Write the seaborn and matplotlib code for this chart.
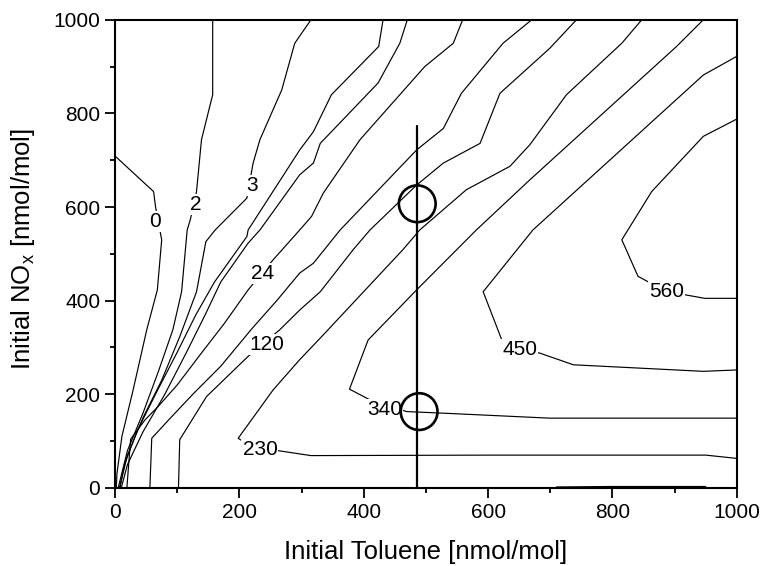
import matplotlib
matplotlib.use("Agg")
import matplotlib.pyplot as plt
import pandas as pd
import seaborn as sns

# contour polylines: (toluene, NOx) in nmol/mol
c0_x = [0, 62, 65, 72, 75, 68, 51, 29, 11, 3, 2]
c0_y = [709, 633, 601, 551, 530, 423, 338, 209, 110, 30, 0]
c2_x = [157, 157, 139, 131, 121, 116, 107, 93, 70, 45, 20, 5]
c2_y = [1000, 840, 744, 633, 573, 551, 419, 338, 250, 160, 80, 0]
c3_x = [315, 289, 268, 233, 222, 212, 161, 146, 131, 104, 75, 45, 20, 7]
c3_y = [1000, 950, 850, 744, 694, 619, 551, 526, 419, 323, 230, 150, 70, 0]
cA_x = [431, 424, 348, 319, 297, 214, 212, 160, 130, 100, 65, 35, 15, 8]
cA_y = [1000, 943, 840, 761, 722, 551, 537, 440, 370, 290, 200, 120, 50, 0]
cB_x = [470, 458, 423, 330, 319, 297, 233, 214, 170, 145, 115, 80, 45, 20, 10]
cB_y = [1000, 950, 865, 736, 694, 669, 551, 523, 440, 370, 290, 200, 120, 50, 0]
c24_x = [559, 544, 498, 458, 394, 335, 316, 297, 254, 214, 175, 140, 100, 70, 48, 25, 19]
c24_y = [1000, 950, 900, 840, 744, 630, 580, 551, 487, 423, 350, 290, 220, 175, 145, 104, 0]
cD_x = [670, 624, 557, 528, 485, 362, 319, 297, 260, 220, 170, 125, 86, 59, 56]
cD_y = [1000, 950, 843, 768, 722, 551, 480, 459, 400, 340, 260, 200, 145, 106, 0]
c120_x = [742, 699, 619, 587, 528, 485, 410, 383, 330, 297, 265, 214, 147, 104, 102]
c120_y = [1000, 939, 843, 736, 694, 647, 551, 509, 419, 380, 338, 281, 195, 103, 0]
c230_x = [847, 815, 726, 667, 635, 565, 490, 463, 330, 297, 254, 198, 206, 233, 265,
          315, 600, 950, 1000]
c230_y = [1000, 950, 840, 733, 687, 637, 551, 509, 320, 274, 209, 106, 99, 85, 79,
          69, 70, 70, 63]
c340_x = [946, 903, 667, 581, 485, 407, 377, 410, 469, 522, 699, 1000]
c340_y = [1000, 943, 658, 551, 423, 316, 211, 188, 163, 160, 149, 149]
c450_x = [1000, 946, 672, 592, 622, 651, 683, 737, 946, 1000]
c450_y = [922, 882, 551, 419, 316, 295, 288, 263, 249, 252]
c560_x = [1000, 946, 863, 815, 841, 887, 919, 948, 1000]
c560_y = [788, 751, 633, 530, 452, 419, 412, 405, 405]
cbase_x = [710, 800, 950]
cbase_y = [2, 3, 3]

contours = [(c0_x, c0_y), (c2_x, c2_y), (c3_x, c3_y), (cA_x, cA_y), (cB_x, cB_y),
            (c24_x, c24_y), (cD_x, cD_y), (c120_x, c120_y), (c230_x, c230_y),
            (c340_x, c340_y), (c450_x, c450_y), (c560_x, c560_y), (cbase_x, cbase_y)]

label_text = ["0", "2", "3", "24", "120", "230", "340", "450", "560"]
label_x = [64, 130, 220, 238, 244, 233, 434, 651, 887]
label_y = [569, 605, 647, 459, 306, 81, 167, 295, 419]

cut_x = [486, 486]
cut_y = [0, 773]
circle_x = [486, 489]
circle_y = [607, 163]

sns.set_style("ticks")
plt.rcParams["font.family"] = ["Liberation Sans", "DejaVu Sans"]
plt.rcParams["text.color"] = "black"
plt.rcParams["axes.labelcolor"] = "black"
plt.rcParams["xtick.color"] = "black"
plt.rcParams["ytick.color"] = "black"
plt.rcParams["axes.edgecolor"] = "black"

fig = plt.figure(figsize=(7.62, 5.66), dpi=100)
ax = fig.add_axes([0.151, 0.138, 0.816, 0.827])

for cx, cy in contours:
    d = pd.DataFrame({"x": cx, "y": cy})
    sns.lineplot(data=d, x="x", y="y", sort=False, estimator=None, color="black",
                 lw=0.85, ax=ax)

for t, x, y in zip(label_text, label_x, label_y):
    ax.text(x, y, t, fontsize=15, ha="center", va="center", zorder=3,
            bbox=dict(boxstyle="square,pad=0.05", fc="white", ec="none"))

ax.plot(cut_x, cut_y, color="black", lw=1.6, zorder=4)
sns.scatterplot(x=circle_x, y=circle_y, marker="o", s=700, facecolor="none",
                edgecolor="black", linewidth=1.9, ax=ax, zorder=5)

ax.set_xlim(0, 1000)
ax.set_ylim(0, 1000)
ax.set_xticks(range(0, 1001, 200))
ax.set_yticks(range(0, 1001, 200))
ax.set_xticks(range(100, 1000, 200), minor=True)
ax.set_yticks(range(100, 1000, 200), minor=True)
ax.tick_params(which="major", direction="out", length=7.2, width=1.3, labelsize=15)
ax.tick_params(which="minor", direction="out", length=3.8, width=1.3)
ax.set_xlabel("Initial Toluene [nmol/mol]", fontsize=18.5)
ax.set_ylabel(r"Initial NO$_\mathregular{x}$ [nmol/mol]", fontsize=18.5)
ax.xaxis.set_label_coords(0.5, -0.112)
ax.yaxis.set_label_coords(-0.125, 0.51)
for s in ax.spines.values():
    s.set_linewidth(1.5)
    s.set_visible(True)

fig.savefig("out.png", dpi=100)
